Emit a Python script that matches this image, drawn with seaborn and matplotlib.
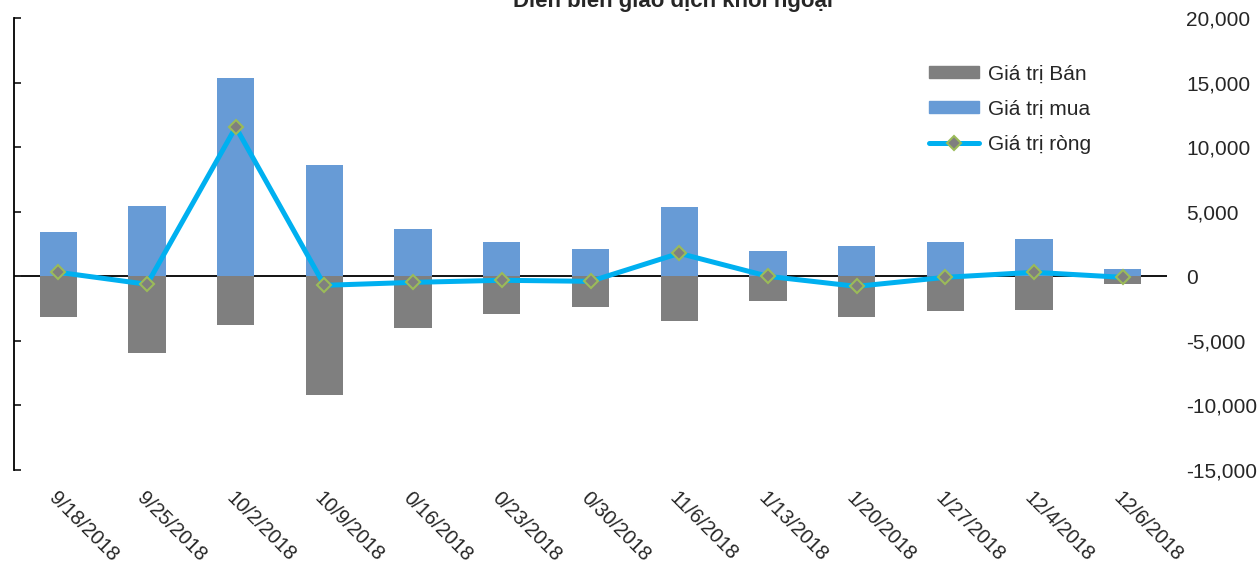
import pandas as pd
import matplotlib.pyplot as plt
import matplotlib.ticker as ticker
from matplotlib.patches import Patch
from matplotlib.lines import Line2D
import seaborn as sns

# data
dates = ['9/18/2018', '9/25/2018', '10/2/2018', '10/9/2018', '0/16/2018',
         '0/23/2018', '0/30/2018', '11/6/2018', '1/13/2018', '1/20/2018',
         '1/27/2018', '12/4/2018', '12/6/2018']
buy_values = [3400, 5430, 15350, 8600, 3640, 2640, 2090, 5350, 1940, 2330, 2640, 2870, 540]
sell_values = [-3180, -5970, -3800, -9230, -4030, -2950, -2400, -3490, -1940, -3180, -2710, -2640, -620]
net_values = [310, -620, 11550, -700, -470, -310, -390, 1780, 0, -780, -80, 310, -80]

labels = ['Giá trị Bán', 'Giá trị mua', 'Giá trị ròng']

sell_color = '#7F7F7F'
buy_color = '#679BD6'
line_color = '#00B0F0'

df = pd.DataFrame({'date': dates, 'buy': buy_values, 'sell': sell_values, 'net': net_values})

sns.set_style('white')
plt.rcParams['font.family'] = ['Liberation Sans', 'DejaVu Sans']

fig = plt.figure(figsize=(12.59, 5.64), dpi=100)
ax = fig.add_axes([14 / 1259, 1 - 470 / 564, (1167 - 14) / 1259, (470 - 18) / 564])

ax.axhline(0, color='black', lw=1.3, zorder=0.5)
sns.barplot(data=df, x='date', y='buy', color=buy_color, saturation=1, width=0.42,
            edgecolor='none', linewidth=0, ax=ax, zorder=2)
sns.barplot(data=df, x='date', y='sell', color=sell_color, saturation=1, width=0.42,
            edgecolor='none', linewidth=0, ax=ax, zorder=2)
sns.pointplot(data=df, x='date', y='net', color=line_color, markers='D', linestyles='-',
              errorbar=None, ax=ax, linewidth=3.6, markersize=7.6,
              markerfacecolor=sell_color, markeredgecolor='#9BBB59', markeredgewidth=1.5)
for ln in ax.lines[1:]:
    ln.set_zorder(3)

ax.set_ylim(-15000, 20000)
ax.set_xlim(-0.5, len(dates) - 0.5)
ax.yaxis.set_major_locator(ticker.MultipleLocator(5000))
ax.yaxis.set_major_formatter(ticker.FuncFormatter(lambda v, p: f'{v:,.0f}'))
ax.tick_params(axis='y', left=True, right=False, labelleft=False, labelright=True,
               direction='in', length=5, width=1.3, pad=14, labelsize=15)
ax.tick_params(axis='x', length=0, pad=13, labelsize=14.5)
for lab in ax.get_xticklabels():
    lab.set_rotation(-45)
    lab.set_ha('left')
    lab.set_va('top')
    lab.set_rotation_mode('anchor')
ax.set_xlabel('')
ax.set_ylabel('')

for s in ['top', 'right', 'bottom']:
    ax.spines[s].set_visible(False)
ax.spines['left'].set_color('black')
ax.spines['left'].set_linewidth(1.3)

handles = [Patch(color=sell_color), Patch(color=buy_color),
           Line2D([], [], color=line_color, lw=3.6, marker='D', markersize=7.6,
                  markerfacecolor=sell_color, markeredgecolor='#9BBB59', markeredgewidth=1.5)]
fig.legend(handles, labels, loc='upper left', bbox_to_anchor=(919 / 1259, 1 - 54 / 564),
           frameon=False, fontsize=15, handlelength=2.4, handleheight=0.5,
           labelspacing=0.78, handletextpad=0.4, borderpad=0)

# title sits partly above the top edge, as in the reference
fig.text(673 / 1259, 1 - 7 / 564, 'Diễn biến giao dịch khối ngoại', ha='center', va='baseline',
         fontsize=16, fontweight='bold')

fig.savefig('out.png', dpi=100)
